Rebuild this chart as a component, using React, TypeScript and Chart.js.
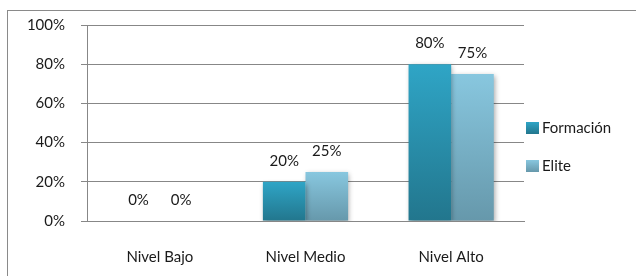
import React, { useEffect, useRef } from "react";
import { Chart, registerables } from "chart.js";

Chart.register(...registerables);

const categories = ["Nivel Bajo", "Nivel Medio", "Nivel Alto"];
const seriesNames = ["Formación", "Elite"];
const formacion = [0, 20, 80];
const elite = [0, 25, 75];
const yTicks = [0, 20, 40, 60, 80, 100];

const FONT = "Lato, 'Open Sans', sans-serif";
const FS = 15;
const TEXT = "#1a1a1a";
const GRID = "#878787";

const colorStops = [
  ["#2fa5c6", "#22768d"],
  ["#88c7df", "#6698ab"],
];

function barGradient(ctx: any, di: number) {
  const chart = ctx.chart;
  const c = chart.ctx;
  const y = chart.scales?.y;
  const v = ctx.raw ?? 0;
  if (!y || !chart.chartArea) return colorStops[di][0];
  const top = y.getPixelForValue(v);
  const bot = y.getPixelForValue(0);
  if (!isFinite(top) || !isFinite(bot) || bot - top < 1) return colorStops[di][0];
  const g = c.createLinearGradient(0, top, 0, bot);
  g.addColorStop(0, colorStops[di][0]);
  g.addColorStop(1, colorStops[di][1]);
  return g;
}

const decor = {
  id: "decor",
  beforeDraw(chart: any) {
    const c = chart.ctx;
    c.save();
    c.fillStyle = "#ffffff";
    c.fillRect(0, 0, chart.width, chart.height);
    c.strokeStyle = "#8a8a8a";
    c.lineWidth = 1;
    c.strokeRect(7.5, 10.5, 800, 400);
    c.restore();
  },
  beforeDatasetsDraw(chart: any) {
    const c = chart.ctx;
    c.save();
    c.shadowColor = "rgba(0,0,0,0.35)";
    c.shadowBlur = 5;
    c.shadowOffsetX = 1;
    c.shadowOffsetY = 2;
  },
  afterDatasetsDraw(chart: any) {
    const c = chart.ctx;
    c.restore();
    c.save();
    c.font = `${FS}px ${FONT}`;
    c.fillStyle = TEXT;
    c.textAlign = "center";
    c.textBaseline = "middle";
    chart.data.datasets.forEach((ds: any, di: number) => {
      const meta = chart.getDatasetMeta(di);
      meta.data.forEach((el: any, i: number) => {
        c.fillText(`${ds.data[i]}%`, el.x, el.y - 21);
      });
    });
    // legend
    const ys = [128, 166];
    seriesNames.forEach((name, di) => {
      const y = ys[di];
      const g = c.createLinearGradient(0, y - 6, 0, y + 6);
      g.addColorStop(0, colorStops[di][0]);
      g.addColorStop(1, colorStops[di][1]);
      c.fillStyle = g;
      c.fillRect(526, y - 6, 13, 12);
      c.fillStyle = TEXT;
      c.textAlign = "left";
      c.fillText(name, 542, y);
    });
    c.restore();
  },
};

export default function App() {
  const ref = useRef<HTMLCanvasElement>(null);
  useEffect(() => {
    if (!ref.current) return;
    const chart = new Chart(ref.current, {
      type: "bar",
      data: {
        labels: categories,
        datasets: [
          {
            label: seriesNames[0],
            data: formacion,
            backgroundColor: (ctx: any) => barGradient(ctx, 0),
            borderWidth: 0,
          },
          {
            label: seriesNames[1],
            data: elite,
            backgroundColor: (ctx: any) => barGradient(ctx, 1),
            borderWidth: 0,
          },
        ],
      },
      options: {
        animation: false,
        responsive: false,
        maintainAspectRatio: false,
        layout: { padding: { top: 22, right: 112, left: 0, bottom: 0 } },
        plugins: {
          legend: { display: false },
          tooltip: { enabled: false },
        },
        datasets: {
          bar: { categoryPercentage: 0.585, barPercentage: 1 },
        },
        scales: {
          x: {
            grid: { display: true, drawOnChartArea: false, drawTicks: false, tickLength: 0 },
            border: { display: true, color: GRID, width: 1 },
            ticks: {
              color: TEXT,
              font: { family: FONT, size: FS },
              padding: 27,
            },
            afterFit(s: any) {
              s.height = 55;
            },
          },
          y: {
            min: 0,
            max: 100,
            afterBuildTicks(s: any) {
              s.ticks = yTicks.map((v) => ({ value: v }));
            },
            grid: { color: GRID, lineWidth: 1, tickLength: 6, drawTicks: true },
            border: { display: true, color: GRID, width: 1 },
            ticks: {
              color: TEXT,
              font: { family: FONT, size: FS },
              padding: 16,
              callback: (v: any) => `${v}%`,
            },
            afterFit(s: any) {
              s.width = 87;
            },
          },
        },
      },
      plugins: [decor],
    });
    return () => chart.destroy();
  }, []);
  return (
    <div style={{ position: "absolute", left: 0, top: 0, width: 636, height: 276, background: "#fff" }}>
      <canvas ref={ref} width={636} height={276} style={{ width: 636, height: 276, display: "block" }} />
    </div>
  );
}
